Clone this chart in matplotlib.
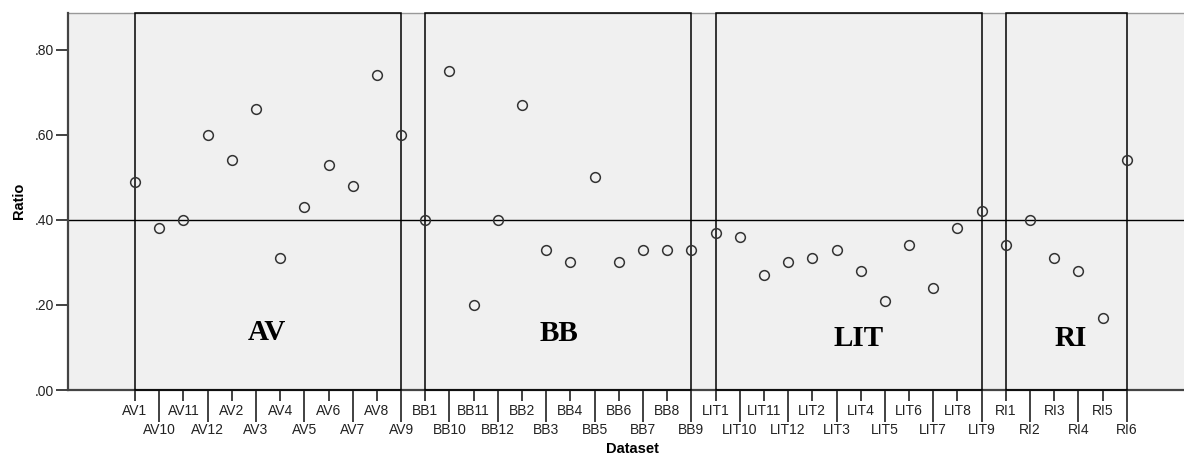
import matplotlib
matplotlib.use("Agg")
import matplotlib.pyplot as plt
from matplotlib.patches import Rectangle
from matplotlib.ticker import FixedLocator, FixedFormatter

# ---- data ----
av_labels = ["AV1", "AV10", "AV11", "AV12", "AV2", "AV3", "AV4", "AV5", "AV6", "AV7", "AV8", "AV9"]
av_values = [0.49, 0.38, 0.40, 0.60, 0.54, 0.66, 0.31, 0.43, 0.53, 0.48, 0.74, 0.60]
bb_labels = ["BB1", "BB10", "BB11", "BB12", "BB2", "BB3", "BB4", "BB5", "BB6", "BB7", "BB8", "BB9"]
bb_values = [0.40, 0.75, 0.20, 0.40, 0.67, 0.33, 0.30, 0.50, 0.30, 0.33, 0.33, 0.33]
lit_labels = ["LIT1", "LIT10", "LIT11", "LIT12", "LIT2", "LIT3", "LIT4", "LIT5", "LIT6", "LIT7", "LIT8", "LIT9"]
lit_values = [0.37, 0.36, 0.27, 0.30, 0.31, 0.33, 0.28, 0.21, 0.34, 0.24, 0.38, 0.42]
ri_labels = ["RI1", "RI2", "RI3", "RI4", "RI5", "RI6"]
ri_values = [0.34, 0.40, 0.31, 0.28, 0.17, 0.54]
group_names = ["AV", "BB", "LIT", "RI"]
ref_y = 0.40
yticks = [0.0, 0.2, 0.4, 0.6, 0.8]
ytick_labels = [".00", ".20", ".40", ".60", ".80"]

groups = [av_labels, bb_labels, lit_labels, ri_labels]
labels = av_labels + bb_labels + lit_labels + ri_labels
values = av_values + bb_values + lit_values + ri_values
x = list(range(len(labels)))

W, H = 1184, 457
fig = plt.figure(figsize=(W / 100, H / 100), dpi=100)
left, right, top, bottom = 68, 1196, 13, 390
ax = fig.add_axes([left / W, (H - bottom) / H, (right - left) / W, (bottom - top) / H])
ax.set_facecolor("#f0f0f0")

ymax = 0.887
ax.set_xlim(-2.77, 43.86)
ax.set_ylim(0, ymax)

# boxes around groups
start = 0
for g in groups:
    s, e = start, start + len(g) - 1
    ax.add_patch(Rectangle((s, 0), e - s, ymax, fill=False, edgecolor="black",
                           linewidth=1.1, zorder=3, clip_on=False))
    start += len(g)

ax.axhline(ref_y, color="black", linewidth=1.0, zorder=2)

ax.plot(x, values, linestyle="none", marker="o", markersize=7,
        markerfacecolor="none", markeredgecolor="#333333", markeredgewidth=1.1,
        zorder=4, clip_on=False)

# group labels
label_pos = [(5.46, 0.136), (17.53, 0.134), (29.9, 0.122), (38.7, 0.122)]
for name, (gx, gy) in zip(group_names, label_pos):
    ax.text(gx, gy, name, ha="center", va="center", fontsize=21, fontweight="bold",
            family="Liberation Serif", color="black", zorder=4)

# x ticks: staggered
ax.xaxis.set_major_locator(FixedLocator(x[0::2]))
ax.xaxis.set_major_formatter(FixedFormatter(labels[0::2]))
ax.xaxis.set_minor_locator(FixedLocator(x[1::2]))
ax.xaxis.set_minor_formatter(FixedFormatter(labels[1::2]))
ax.tick_params(axis="x", which="major", length=8, width=1.3, color="#333333",
               pad=2, labelsize=10, labelcolor="#222222")
ax.tick_params(axis="x", which="minor", length=23, width=1.3, color="#333333",
               pad=1, labelsize=10, labelcolor="#222222")
for t in ax.get_xticklabels(which="both"):
    t.set_family("Liberation Sans")

ax.set_yticks(yticks)
ax.set_yticklabels(ytick_labels, family="Liberation Sans")
ax.tick_params(axis="y", length=9, width=1.3, color="#333333", pad=1,
               labelsize=10, labelcolor="#222222")

for sp in ["left", "bottom"]:
    ax.spines[sp].set_color("#444444")
    ax.spines[sp].set_linewidth(1.6)
ax.spines["top"].set_color("#999999")
ax.spines["top"].set_linewidth(1.0)
ax.spines["top"].set_zorder(1)
ax.spines["right"].set_visible(False)

fig.text(19 / W, 1 - 201 / H, "Ratio", rotation=90, ha="center", va="center",
         fontsize=10.5, fontweight="bold", family="Liberation Sans")
fig.text(632 / W, 1 - 449 / H, "Dataset", ha="center", va="center",
         fontsize=10.5, fontweight="bold", family="Liberation Sans")

fig.savefig("out.png", dpi=100)
